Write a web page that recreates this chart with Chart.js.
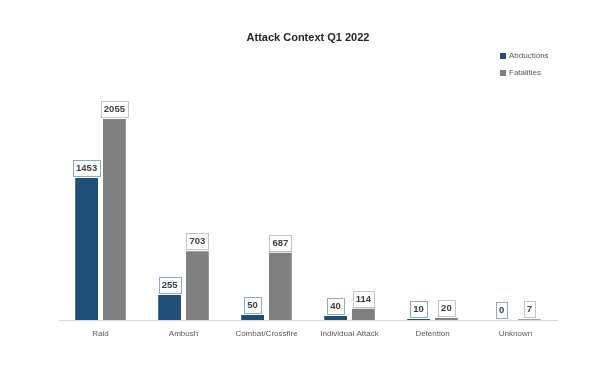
<!DOCTYPE html>
<html>
<head>
<meta charset="utf-8">
<script src="https://cdn.jsdelivr.net/npm/chart.js@4/dist/chart.umd.min.js"></script>
<style>
  html, body { margin: 0; padding: 0; background: #fff; }
  #wrap { width: 605px; height: 383px; }
</style>
</head>
<body>
<div id="wrap"><canvas id="attacks"></canvas></div>
<script>
var contexts = ["Raid", "Ambush", "Combat/Crossfire", "Individual Attack", "Detention", "Unknown"];
var abductions = [1453, 255, 50, 40, 10, 0];
var fatalities = [2055, 703, 687, 114, 20, 7];

var blue = "#1f4e79";
var grey = "#808080";

// boxed value labels sitting on top of each bar
var boxLabels = {
  id: "boxLabels",
  afterDatasetsDraw: function (chart) {
    var ctx = chart.ctx;
    ctx.save();
    ctx.font = "bold 9.5px 'Liberation Sans', Arial, sans-serif";
    ctx.textAlign = "center";
    ctx.textBaseline = "middle";
    chart.data.datasets.forEach(function (ds, i) {
      var meta = chart.getDatasetMeta(i);
      meta.data.forEach(function (bar, j) {
        var txt = String(ds.data[j]);
        var w = ctx.measureText(txt).width + 6;
        var h = 16;
        var x = bar.x - w / 2;
        var y = bar.y - 2 - h;
        ctx.fillStyle = "#fff";
        ctx.fillRect(x, y, w, h);
        ctx.lineWidth = 1;
        ctx.strokeStyle = ds.labelBorder;
        ctx.strokeRect(Math.round(x) + 0.5, Math.round(y) + 0.5, Math.round(w), h);
        ctx.fillStyle = "#404040";
        ctx.fillText(txt, bar.x, y + h / 2 + 0.5);
      });
    });
    ctx.restore();
  }
};

// small stacked legend in the top right corner
var cornerLegend = {
  id: "cornerLegend",
  afterDraw: function (chart) {
    var ctx = chart.ctx;
    ctx.save();
    ctx.font = "8px 'Liberation Sans', Arial, sans-serif";
    ctx.textBaseline = "middle";
    chart.data.datasets.forEach(function (ds, i) {
      var y = 56 + i * 17;
      ctx.fillStyle = ds.backgroundColor;
      ctx.fillRect(500, y - 3, 6, 6);
      ctx.fillStyle = "#595959";
      ctx.fillText(ds.label, 509, y);
    });
    ctx.restore();
  }
};

new Chart("attacks", {
  type: "bar",
  data: {
    labels: contexts,
    datasets: [{
      label: "Abductions",
      data: abductions,
      backgroundColor: blue,
      labelBorder: "#8eaacb"
    }, {
      label: "Fatalities",
      data: fatalities,
      backgroundColor: grey,
      labelBorder: "#c4c4c4"
    }]
  },
  options: {
    responsive: true,
    maintainAspectRatio: false,
    animation: false,
    categoryPercentage: 0.67,
    barPercentage: 0.82,
    layout: { padding: { left: 59, right: 48, top: 0, bottom: 43 } },
    plugins: {
      legend: { display: false },
      tooltip: { enabled: false },
      title: {
        display: true,
        text: "Attack Context Q1 2022",
        color: "#262626",
        font: { family: "'Liberation Sans', Arial, sans-serif", size: 11, weight: "bold" },
        padding: { top: 31, bottom: 31.3 }
      }
    },
    scales: {
      x: {
        grid: { display: false, drawTicks: false },
        border: { color: "#d9d9d9" },
        ticks: {
          color: "#595959",
          font: { family: "'Liberation Sans', Arial, sans-serif", size: 8 },
          padding: 9,
          maxRotation: 0,
          autoSkip: false
        },
        afterFit: function (s) { s.height = 20; }
      },
      y: {
        display: false,
        min: 0,
        max: 2500
      }
    }
  },
  plugins: [boxLabels, cornerLegend]
});
</script>
</body>
</html>
